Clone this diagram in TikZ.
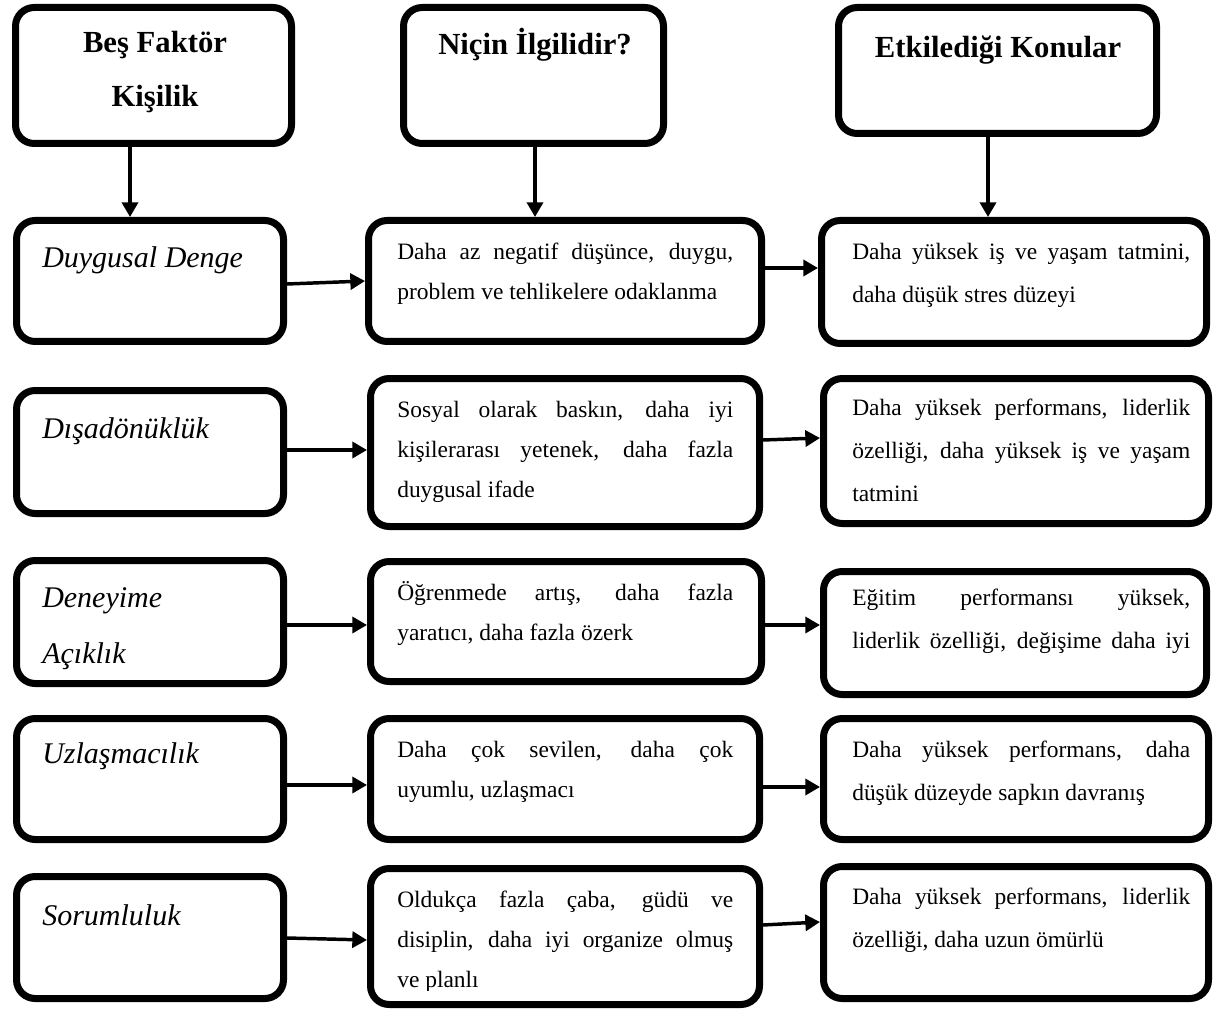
\documentclass[tikz,border=0pt]{standalone}
\usepackage{fontspec}
\setmainfont{Liberation Serif}
\usetikzlibrary{fit,arrows.meta}
\tikzset{
  box/.style={draw=black, line width=5.25pt, rounded corners=14pt, inner sep=0pt, fill=white},
  arr/.style={line width=2.6pt, -{Triangle[length=11pt,width=12pt]}},
  head/.style={font=\fontsize{23}{40.5}\selectfont\bfseries, align=center, inner sep=0pt},
  trait/.style={font=\fontsize{22.5}{42}\selectfont\itshape, align=left, inner sep=0pt, anchor=base west},
  why/.style={font=\fontsize{17.6}{30}\selectfont, text width=252pt, align=justify, inner sep=0pt, anchor=base west},
  eff/.style={font=\fontsize{17.6}{32.25}\selectfont, text width=253.5pt, align=justify, inner sep=0pt, anchor=base west},
}
\newcommand\mkbox[5]{\node[box, fit={({#2+3.5},{#3+3.5}) ({#4-3.5},{#5-3.5})}] (#1) {};}
\begin{document}
\begin{tikzpicture}[x=0.75pt,y=-0.75pt]
\fill[white] (0,0) rectangle (1220,1012);
\useasboundingbox (0,0) rectangle (1220,1012);

% boxes
\mkbox{hA}{12}{4}{295}{147}
\mkbox{hB}{400}{4}{667}{147}
\mkbox{hC}{835}{4}{1160}{137}
\mkbox{a1}{13}{217}{287}{345}
\mkbox{b1}{365}{217}{765}{345}
\mkbox{c1}{818}{217}{1210}{347}
\mkbox{a2}{13}{387}{287}{517}
\mkbox{b2}{367}{375}{763}{530}
\mkbox{c2}{820}{375}{1212}{527}
\mkbox{a3}{13}{557}{287}{687}
\mkbox{b3}{367}{558}{765}{685}
\mkbox{c3}{820}{568}{1210}{698}
\mkbox{a4}{13}{715}{287}{843}
\mkbox{b4}{367}{715}{763}{843}
\mkbox{c4}{820}{715}{1212}{843}
\mkbox{a5}{13}{873}{287}{1002}
\mkbox{b5}{367}{865}{763}{1008}
\mkbox{c5}{820}{863}{1212}{1002}

% header texts (base anchor = last line)
\node[head, anchor=base] (thA) at (155,107) {Beş Faktör\\Kişilik};
\node[head, anchor=base] (thB) at (535,55) {Niçin İlgilidir?};
\node[head, anchor=base] (thC) at (998,58) {Etkilediği Konular};

% traits
\node[trait] (ta1) at (42,268) {Duygusal Denge};
\node[trait] (ta2) at (42,438) {Dışadönüklük};
\node[trait] (ta3) at (42,663) {Deneyime\\Açıklık};
\node[trait] (ta4) at (42,763) {Uzlaşmacılık};
\node[trait] (ta5) at (42,925) {Sorumluluk};

% why
\node[why] (tb1) at (397,260) {Daha az negatif düşünce, duygu,\linebreak problem ve tehlikelere odaklanma};
\node[why] (tb2) at (397,417) {Sosyal olarak baskın, daha iyi\linebreak kişilerarası yetenek, daha fazla\linebreak duygusal ifade};
\node[why] (tb3) at (397,600) {Öğrenmede artış, daha fazla\linebreak yaratıcı, daha fazla özerk};
\node[why] (tb4) at (397,757) {Daha çok sevilen, daha çok\linebreak uyumlu, uzlaşmacı};
\begin{scope}
\clip (367,865) rectangle (763,990);
\node[why] (tb5) at (397,907) {Oldukça fazla çaba, güdü ve\linebreak disiplin, daha iyi organize olmuş\linebreak ve planlı};
\end{scope}

% effects
\node[eff] (tc1) at (852,260) {Daha yüksek iş ve yaşam tatmini,\linebreak daha düşük stres düzeyi};
\node[eff] (tc2) at (852,415) {Daha yüksek performans, liderlik\linebreak özelliği, daha yüksek iş ve yaşam\linebreak tatmini};
\node[eff] (tc3) at (852,605) {Eğitim performansı yüksek,\linebreak \hbox to\hsize{liderlik özelliği, değişime daha iyi}};
\node[eff] (tc4) at (852,757) {Daha yüksek performans, daha\linebreak düşük düzeyde sapkın davranış};
\node[eff] (tc5) at (852,904) {Daha yüksek performans, liderlik\linebreak özelliği, daha uzun ömürlü};

% arrows
\draw[arr] (hA.south -| 130,0) -- (a1.north -| 130,0);
\draw[arr] (hB.south -| 535,0) -- (b1.north -| 535,0);
\draw[arr] (hC.south -| 988,0) -- (c1.north -| 988,0);
\draw[arr] (a1.east |- 0,284) -- (b1.west |- 0,281);
\draw[arr] (b1.east |- 0,268) -- (c1.west |- 0,268);
\draw[arr] (a2.east |- 0,450) -- (b2.west |- 0,450);
\draw[arr] (b2.east |- 0,440) -- (c2.west |- 0,438);
\draw[arr] (a3.east |- 0,625) -- (b3.west |- 0,625);
\draw[arr] (b3.east |- 0,625) -- (c3.west |- 0,625);
\draw[arr] (a4.east |- 0,785) -- (b4.west |- 0,785);
\draw[arr] (b4.east |- 0,787) -- (c4.west |- 0,787);
\draw[arr] (a5.east |- 0,938) -- (b5.west |- 0,940);
\draw[arr] (b5.east |- 0,925) -- (c5.west |- 0,922);
\end{tikzpicture}
\end{document}
